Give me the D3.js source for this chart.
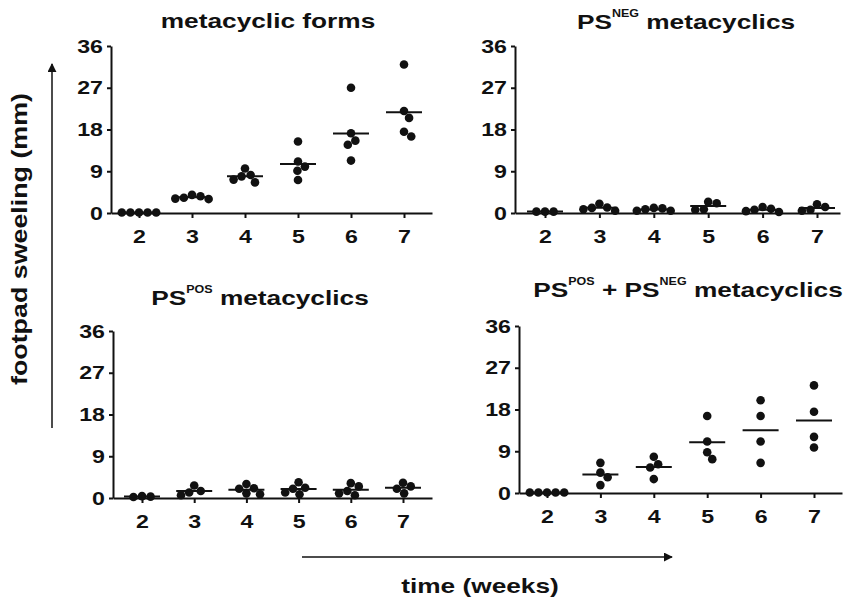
<!DOCTYPE html>
<html>
<head>
<meta charset="utf-8">
<script src="https://cdn.jsdelivr.net/npm/d3@7"></script>
<style>
  body { margin: 0; background: #fff; }
  svg text { font-family: "Liberation Sans", Arial, sans-serif; font-weight: bold; fill: #111; }
</style>
</head>
<body>
<script>
// weeks after infection and shared y ticks
const weeks = [2, 3, 4, 5, 6, 7];
const yTicks = [0, 9, 18, 27, 36];

// footpad swelling (mm) per mouse, one list per week
const formsValues = [
  [0.1, 0.1, 0.1, 0.1, 0.1],
  [3.9, 3.6, 3.3, 3.1, 3.0],
  [9.6, 8.2, 7.9, 7.2, 6.6],
  [15.4, 11.1, 10.0, 9.1, 7.1],
  [27.0, 17.2, 15.6, 14.7, 11.3],
  [32.0, 22.0, 20.5, 17.5, 16.5]
];
const negValues = [
  [0.3, 0.3, 0.3],
  [2.0, 1.2, 1.1, 0.8, 0.5],
  [1.1, 1.0, 0.8, 0.5, 0.5],
  [2.4, 2.1, 0.8, 0.7],
  [1.3, 0.9, 0.7, 0.4, 0.2],
  [1.9, 1.3, 0.7, 0.5]
];
const posValues = [
  [0.4, 0.3, 0.2],
  [2.7, 1.5, 1.2, 0.6],
  [3.0, 2.1, 2.0, 1.0, 0.8],
  [3.4, 2.2, 2.0, 1.2, 0.8],
  [3.2, 2.5, 1.5, 1.0, 0.6],
  [3.3, 2.5, 2.0, 1.0]
];
const mixValues = [
  [0.1, 0.1, 0.1, 0.1, 0.1],
  [6.5, 4.4, 3.4, 1.7],
  [7.8, 6.2, 5.5, 3.0],
  [16.6, 11.1, 8.8, 7.3],
  [20.0, 16.6, 11.1, 6.5],
  [23.2, 17.5, 12.1, 9.8]
];

const W = 847, H = 600;
const stretch = 1.22;   // the original lettering is wider than Arial
const r = 4.3;          // dot radius

// panel layout: axis box, where week 2 and week 7 sit, title
const panels = [
  { title: ['metacyclic forms'], values: formsValues,
    left: 111, right: 432, top: 46, bottom: 213, x2: 139, x7: 404, tx: 268, ty: 28 },
  { title: ['PS', 'NEG', ' metacyclics'], values: negValues,
    left: 515, right: 840, top: 46, bottom: 213, x2: 545, x7: 817, tx: 686, ty: 29 },
  { title: ['PS', 'POS', ' metacyclics'], values: posValues,
    left: 113, right: 432, top: 331, bottom: 498, x2: 142, x7: 403, tx: 260, ty: 305 },
  { title: ['PS', 'POS', ' + PS', 'NEG', ' metacyclics'], values: mixValues,
    left: 519, right: 842, top: 326, bottom: 493, x2: 547, x7: 814, tx: 688, ty: 297 }
];

const svg = d3.select('body').append('svg')
    .attr('width', W)
    .attr('height', H);

// place dots side by side where they would overlap (scatter-dot style)
function swarm(vals, y) {
  const placed = [];
  vals.slice().sort((a, b) => b - a).forEach(v => {
    const py = y(v);
    let cands = [0];
    placed.forEach(p => {
      const dy = Math.abs(py - p.py);
      if (dy < 2 * r) {
        const h = Math.sqrt(4 * r * r - dy * dy);
        cands.push(p.dx + h, p.dx - h);
      }
    });
    cands.sort((a, b) => Math.abs(a) - Math.abs(b));
    const dx = cands.find(c => placed.every(p =>
      (c - p.dx) ** 2 + (py - p.py) ** 2 >= (2 * r) ** 2 - 0.01));
    placed.push({ v: v, py: py, dx: dx });
  });
  return placed;
}

panels.forEach(p => {
  const step = (p.x7 - p.x2) / 5;
  const x = d3.scaleLinear()
    .domain([2 - (p.x2 - p.left) / step, 7 + (p.right - p.x7) / step])
    .range([p.left, p.right]);
  const y = d3.scaleLinear().domain([0, 36]).range([p.bottom, p.top]);

  const g = svg.append('g');

  // y axis
  const ya = g.append('g')
      .attr('transform', `translate(${p.left},0)`)
      .call(d3.axisLeft(y).tickValues(yTicks).tickSize(4).tickPadding(2.6).tickSizeOuter(0));
  // x axis
  const xa = g.append('g')
      .attr('transform', `translate(0,${p.bottom})`)
      .call(d3.axisBottom(x).tickValues(weeks).tickFormat(d3.format('d'))
        .tickSize(5).tickPadding(12).tickSizeOuter(0));

  [ya, xa].forEach(a => {
    a.attr('font-size', 19).attr('font-family', null).attr('color', '#111');
    a.select('.domain').attr('stroke-width', 2);
    a.selectAll('.tick line').attr('stroke-width', 2);
    a.selectAll('.tick text').attr('transform', `scale(${stretch},1)`);
  });

  // dots and mean bars
  weeks.forEach((w, i) => {
    const vals = p.values[i];
    const cx = x(w);
    const dots = swarm(vals, y);
    g.selectAll(null)
        .data(dots)
        .enter()
      .append('circle')
        .attr('cx', d => cx + d.dx)
        .attr('cy', d => d.py)
        .attr('r', r)
        .attr('fill', '#111');
    g.append('line')
        .attr('x1', cx - 18)
        .attr('x2', cx + 18)
        .attr('y1', y(d3.mean(vals)))
        .attr('y2', y(d3.mean(vals)))
        .attr('stroke', '#111')
        .attr('stroke-width', 2);
  });

  // panel title, superscripts on every second piece
  const t = svg.append('text')
      .attr('transform', `translate(${p.tx},${p.ty}) scale(${stretch + 0.03},1)`)
      .attr('text-anchor', 'middle')
      .attr('font-size', 21);
  p.title.forEach((s, k) => {
    const sup = k % 2 === 1;
    t.append('tspan')
        .attr('font-size', sup ? 10 : 21)
        .attr('dy', sup ? -12 : (k > 0 ? 12 : 0))
        .text(s);
  });
});

// arrows
const defs = svg.append('defs');
defs.append('marker')
    .attr('id', 'head')
    .attr('viewBox', '0 0 10 10')
    .attr('refX', 9)
    .attr('refY', 5)
    .attr('markerWidth', 9)
    .attr('markerHeight', 9)
    .attr('markerUnits', 'userSpaceOnUse')
    .attr('orient', 'auto')
  .append('path')
    .attr('d', 'M0,0 L10,5 L0,10 Z')
    .attr('fill', '#111');

svg.append('line')
    .attr('x1', 52).attr('y1', 428)
    .attr('x2', 52).attr('y2', 64)
    .attr('stroke', '#111')
    .attr('stroke-width', 1.5)
    .attr('marker-end', 'url(#head)');

svg.append('line')
    .attr('x1', 302).attr('y1', 557)
    .attr('x2', 672).attr('y2', 557)
    .attr('stroke', '#111')
    .attr('stroke-width', 1.5)
    .attr('marker-end', 'url(#head)');

// axis titles
svg.append('text')
    .attr('transform', `translate(27,239) rotate(-90) scale(${stretch},1)`)
    .attr('text-anchor', 'middle')
    .attr('font-size', 22)
    .text('footpad sweeling (mm)');

svg.append('text')
    .attr('transform', `translate(480,593) scale(${stretch + 0.03},1)`)
    .attr('text-anchor', 'middle')
    .attr('font-size', 21)
    .text('time (weeks)');
</script>
</body>
</html>
